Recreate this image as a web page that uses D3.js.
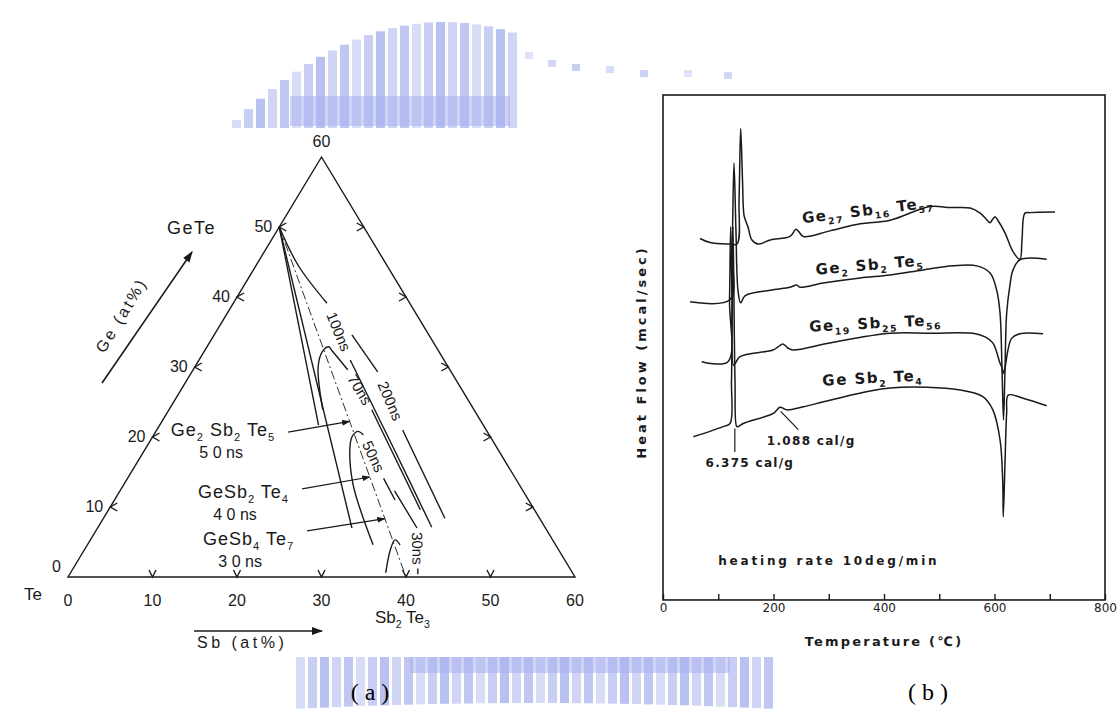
<!DOCTYPE html>
<html>
<head>
<meta charset="utf-8">
<script src="https://cdn.jsdelivr.net/npm/d3@7"></script>
<style>
  body { margin: 0; background: #fff; }
  svg { display: block; }
</style>
</head>
<body>
<svg id="fig" width="1118" height="709"></svg>
<script>
// ================= data: (a) Ge–Sb–Te composition diagram =================
// compositions are given as [Sb at%, Ge at%]; Te makes up the rest
const ternTicks = [10, 20, 30, 40, 50];
const ternLabels = [0, 10, 20, 30, 40, 50, 60];
const geTe = [0, 50];
const sb2Te3 = [40, 0];

const compositions = [
  { name: "Ge_2 Sb_2 Te_5", time: "5 0 ns", sb: 22.22, ge: 22.22, from: [15.7, 20.7] },
  { name: "GeSb_2 Te_4",    time: "4 0 ns", sb: 28.57, ge: 14.29, from: [21.4, 12.6] },
  { name: "GeSb_4 Te_7",    time: "3 0 ns", sb: 33.33, ge: 8.33,  from: [25.0, 6.6] }
];

// boundary lines running out of GeTe
const edgeLines = [
  [[0, 50], [18.8, 21.7]],
  [[0, 50], [30.1, 7.0]]
];

// crystallization-time contours; each is split where its label sits
const isochrones = [
  { label: "100ns", parts: [[[0, 50], [5, 44.5], [11.1, 39.1]],
                            [[17.9, 31.0], [29.6, 18.1], [39.5, 7.1]]] },
  { label: "200ns", parts: [[[16.3, 34.6], [22.0, 29.3]],
                            [[29.1, 21.0], [40.4, 8.4]]] },
  { label: "70ns",  parts: [[[18.2, 23.9], [14.6, 30.0], [14.0, 32.2], [14.4, 32.9], [15.0, 32.4], [18.3, 29.6]],
                            [[24.0, 23.9], [36.9, 9.6]]] },
  { label: "50ns",  parts: [[[33.8, 4.6], [29.8, 9.6], [27.0, 13.4], [24.3, 18.1], [23.6, 20.0], [23.9, 20.8], [24.8, 20.3]],
                            [[30.3, 14.1], [33.2, 11.0]]] },
  { label: "30ns",  parts: [[[32.5, 12.3], [37.8, 7.0]],
                            [[40.8, 1.2], [41.2, 0.4]]] }
];
const arc30 = [[37.3, 0.6], [36.2, 3.9], [36.05, 5.3], [37.0, 4.6]];

// ================= data: (b) DSC traces =================
// [temperature °C, heat flow (arbitrary, offset per trace)]
const tempTicks = [0, 100, 200, 300, 400, 500, 600, 700, 800];
const tempLabels = [0, 200, 400, 600, 800];

const dscGe27 = [[67,7.17],[85,7.09],[121,7.06],[134,7.06],[137.6,7.93],[140.6,9.34],[143.9,8.32],[146.6,7.63],
  [150.2,7.50],[153.8,7.40],[161,7.14],[172.5,7.06],[194,7.14],[230,7.21],[240.7,7.35],[246,7.30],[254,7.21],
  [302,7.32],[357,7.46],[411,7.53],[483,7.80],[520,7.78],[556,7.77],[574,7.67],[585,7.55],[592,7.48],[595.5,7.53],
  [601,7.60],[606,7.53],[619,7.28],[633.5,6.91],[646,6.76],[649.8,7.14],[655,7.67],[664,7.68],[709.5,7.69]];
const dscGe2 = [[49,5.92],[121,5.96],[125,6.94],[128.5,8.66],[132,7.34],[135.7,6.15],[140.6,5.90],[148.4,6.04],
  [194,6.15],[230,6.21],[242,6.25],[248,6.21],[290,6.29],[357,6.39],[411,6.45],[471,6.55],[525,6.63],[568,6.63],
  [592,6.49],[604,6.15],[610,5.70],[613.6,4.58],[616.3,3.59],[619,4.58],[622,5.69],[628,6.25],[633.5,6.55],
  [646,6.75],[694.5,6.76]];
const dscGe19 = [[70,4.74],[117.6,4.74],[120.4,5.96],[122.5,7.40],[124.9,5.96],[127.6,4.67],[132,4.73],[139.4,4.84],
  [199,4.97],[208,5.03],[217,5.09],[226,5.01],[235,4.97],[302,5.11],[411,5.30],[483,5.30],[561,5.30],[583,5.23],
  [597,5.11],[610,4.71],[613.6,4.62],[615.9,4.51],[619,4.62],[624.4,4.97],[631,5.20],[646,5.29],[688,5.29]];
const dscGe1 = [[55,3.26],[109,3.46],[121.3,3.52],[124,4.38],[126.7,7.40],[130.3,4.38],[133.4,3.46],[136.3,3.46],
  [145.3,3.52],[199.6,3.72],[211.8,3.84],[224,3.79],[254,3.85],[302,3.98],[411,4.22],[538,4.18],[579,4.05],
  [597,3.79],[610,3.20],[614.8,2.41],[615.9,1.68],[619,2.74],[622,3.73],[625,4.08],[651.6,4.02],[694.5,3.87]];

const dscSeries = [
  { name: "Ge_27 Sb_16 Te_57", data: dscGe27, at: 372, angle: -7 },
  { name: "Ge_2 Sb_2 Te_5",    data: dscGe2,  at: 375, angle: -5 },
  { name: "Ge_19 Sb_25 Te_56", data: dscGe19, at: 385, angle: -3 },
  { name: "Ge Sb_2 Te_4",      data: dscGe1,  at: 380, angle: -3 }
];

// ================= drawing =================
const svg = d3.select("#fig");
const ink = "#1a1a1a";

// text with chemical subscripts written as "_n"
function richText(sel, str, size) {
  let shifted = false;
  str.split(/(_\d+)/).filter(s => s.length).forEach(s => {
    if (s[0] === "_") {
      sel.append("tspan").attr("font-size", size * 0.62).attr("dy", size * 0.28).text(s.slice(1));
      shifted = true;
    } else {
      sel.append("tspan").attr("font-size", size).attr("dy", shifted ? -size * 0.28 : 0).text(s);
      shifted = false;
    }
  });
  return sel;
}

// ---------- watermark (pale logo fragments) ----------
const wm = svg.append("g").attr("fill", "#a7b1ee");
(function () {
  const shade = i => 0.45 + 0.35 * (((i * 7) % 5) / 4);
  // upper arch: columns rising to a crown, over a solid base
  let i = 0;
  for (let x = 232; x < 512; x += 12, i++) {
    const top = 22 + Math.pow((x - 440) / 210, 2) * 100;
    wm.append("rect").attr("x", x).attr("y", top).attr("width", 9).attr("height", 128 - top)
      .attr("opacity", shade(i));
  }
  wm.append("rect").attr("x", 290).attr("y", 96).attr("width", 220).attr("height", 30).attr("opacity", 0.55);
  [[525, 52], [548, 60], [572, 64], [606, 66], [640, 70], [684, 70], [724, 72]].forEach(([x, y], k) =>
    wm.append("rect").attr("x", x).attr("y", y).attr("width", 8).attr("height", 7).attr("opacity", shade(k) * 0.8));
  // lower arch
  i = 0;
  for (let x = 296; x < 770; x += 12, i++) {
    const bot = 709 - Math.max(0, 1 - Math.pow((x - 530) / 240, 2)) * 6;
    wm.append("rect").attr("x", x).attr("y", 657).attr("width", 9).attr("height", bot - 657)
      .attr("opacity", shade(i));
  }
  wm.append("rect").attr("x", 410).attr("y", 657).attr("width", 320).attr("height", 16).attr("opacity", 0.55);
})();

// ---------- (a) ternary diagram ----------
const tx = d3.scaleLinear().domain([0, 60]).range([68, 575]);
const ty = d3.scaleLinear().domain([0, 60]).range([577, 157]);
const proj = ([sb, ge]) => [tx(sb + ge / 2), ty(ge)];
const tern = svg.append("g").attr("stroke", ink).attr("fill", "none").attr("stroke-width", 1.4);

tern.append("path").attr("d", d3.line()([proj([0, 0]), proj([60, 0]), proj([0, 60])]) + "Z");

// tick marks on the three sides
ternTicks.forEach(v => {
  const [bx, by] = proj([v, 0]);
  tern.append("path").attr("d", `M${bx - 3.5},${by - 7}L${bx},${by}L${bx + 3.5},${by - 7}`);
  const [lx, ly] = proj([0, v]);
  tern.append("path").attr("d", `M${lx + 7},${ly - 4}L${lx},${ly}L${lx + 7},${ly + 4}`);
  const [rx, ry] = proj([60 - v, v]);
  tern.append("path").attr("d", `M${rx - 7},${ry - 4}L${rx},${ry}L${rx - 7},${ry + 4}`);
});

const tLine = d3.line().curve(d3.curveCatmullRom.alpha(0.5)).x(d => proj(d)[0]).y(d => proj(d)[1]);

// GeTe–Sb2Te3 tie line
tern.append("path").attr("d", tLine([geTe, sb2Te3])).attr("stroke-width", 0.9)
  .attr("stroke-dasharray", "9,3,2,3");

edgeLines.forEach(l => tern.append("path").attr("d", tLine(l)));
tern.append("path").attr("d", tLine(arc30));

const labelFont = "'Liberation Sans', Arial, sans-serif";
isochrones.forEach(c => {
  c.parts.forEach(p => tern.append("path").attr("d", tLine(p)));
  const a = proj(c.parts[0][c.parts[0].length - 1]);
  const b = proj(c.parts[1][0]);
  const ang = Math.atan2(b[1] - a[1], b[0] - a[0]) * 180 / Math.PI;
  svg.append("text")
    .attr("transform", `translate(${(a[0] + b[0]) / 2},${(a[1] + b[1]) / 2}) rotate(${ang})`)
    .attr("text-anchor", "middle").attr("dy", "0.35em")
    .attr("font-family", labelFont).attr("font-size", 15).attr("fill", ink)
    .text(c.label);
});

// composition arrows and labels
svg.append("defs").append("marker").attr("id", "head").attr("viewBox", "0 0 10 10")
  .attr("refX", 9).attr("refY", 5).attr("markerWidth", 7).attr("markerHeight", 7).attr("orient", "auto")
  .append("path").attr("d", "M0,1.5L10,5L0,8.5Z").attr("fill", ink);

compositions.forEach((c, k) => {
  const s = proj(c.from), e = proj([c.sb, c.ge]);
  tern.append("path").attr("d", d3.line()([s, e])).attr("stroke-width", 1.2).attr("marker-end", "url(#head)");
  richText(svg.append("text").attr("x", s[0] - 13).attr("y", s[1] + 4 + k * 5).attr("text-anchor", "end")
    .attr("font-family", labelFont).attr("letter-spacing", 1).attr("fill", ink), c.name, 18);
  svg.append("text").attr("x", s[0] - 67).attr("y", s[1] + 26 + k * 5).attr("text-anchor", "middle")
    .attr("font-family", labelFont).attr("font-size", 16).attr("fill", ink).text(c.time);
});

// axis numbers
const numG = svg.append("g").attr("font-family", labelFont).attr("font-size", 16).attr("fill", ink);
ternLabels.forEach(v => {
  const [bx, by] = proj([v, 0]);
  numG.append("text").attr("x", bx).attr("y", by + 29).attr("text-anchor", "middle").text(v);
  if (v < 60) {
    const [lx, ly] = proj([0, v]);
    numG.append("text").attr("x", lx - 7).attr("y", ly + 5 - (v === 0 ? 10 : 0))
      .attr("text-anchor", "end").text(v);
  }
});
numG.append("text").attr("x", proj([0, 60])[0]).attr("y", proj([0, 60])[1] - 10)
  .attr("text-anchor", "middle").text(60);

const nameG = svg.append("g").attr("font-family", labelFont).attr("fill", ink);
nameG.append("text").attr("x", 216).attr("y", 234).attr("text-anchor", "end").attr("font-size", 18)
  .attr("letter-spacing", 1.5).text("GeTe");
nameG.append("text").attr("x", 42).attr("y", 600).attr("text-anchor", "end").attr("font-size", 17).text("Te");
richText(nameG.append("text").attr("x", 375).attr("y", 623), "Sb_2 Te_3", 17);
nameG.append("text").attr("x", 197).attr("y", 648).attr("font-size", 16).attr("letter-spacing", 3.5).text("Sb (at%)");
nameG.append("path").attr("d", "M194,631L322,631").attr("stroke", ink).attr("stroke-width", 1.6)
  .attr("marker-end", "url(#head)");
// Ge axis title parallel to the left side
const sideAng = Math.atan2(ty(60) - ty(0), tx(30) - tx(0)) * 180 / Math.PI;
nameG.append("text").attr("transform", `translate(126,318) rotate(${sideAng})`)
  .attr("text-anchor", "middle").attr("font-size", 16).attr("letter-spacing", 2.5).text("Ge (at%)");
nameG.append("path").attr("d", "M102,383L192,252").attr("stroke", ink).attr("stroke-width", 1.6)
  .attr("marker-end", "url(#head)");

// ---------- (b) DSC curves ----------
const dx = d3.scaleLinear().domain([0, 800]).range([663, 1105]);
const dy = d3.scaleLinear().domain([0, 10]).range([602, 95]);
const dsc = svg.append("g");
const dscFont = "'DejaVu Sans', sans-serif";

dsc.append("rect").attr("x", dx(0)).attr("y", dy(10)).attr("width", dx(800) - dx(0))
  .attr("height", dy(0.04) - dy(10)).attr("fill", "none").attr("stroke", ink).attr("stroke-width", 1.6);

const xAxis = dsc.append("g").attr("transform", `translate(0,${dy(0.04)})`)
  .call(d3.axisBottom(dx).tickValues(tempTicks).tickSize(-6).tickPadding(4)
    .tickFormat(d => tempLabels.includes(d) ? d : ""));
xAxis.select(".domain").remove();
xAxis.selectAll("line").attr("stroke", ink).attr("stroke-width", 1.4);
xAxis.selectAll("text").attr("font-family", dscFont).attr("font-size", 12).attr("fill", ink);

const dLine = d3.line().curve(d3.curveCatmullRom.alpha(0.5)).x(d => dx(d[0])).y(d => dy(d[1]));
dscSeries.forEach(s => {
  dsc.append("path").attr("d", dLine(s.data)).attr("fill", "none").attr("stroke", ink).attr("stroke-width", 1.5);
  const pts = s.data;
  const i = pts.findIndex(p => p[0] >= s.at);
  const y = dy(pts[i][1]);
  richText(dsc.append("text").attr("transform", `translate(${dx(s.at)},${y - 5}) rotate(${s.angle})`)
    .attr("text-anchor", "middle").attr("font-family", dscFont).attr("font-weight", "bold")
    .attr("letter-spacing", 1.5).attr("fill", ink), s.name, 15);
});

// enthalpy annotations
const ann = dsc.append("g").attr("stroke", ink).attr("stroke-width", 1.2);
ann.append("path").attr("d", `M${dx(213)},${dy(3.76)}L${dx(245)},${dy(3.40)}`);
ann.append("path").attr("d", `M${dx(130)},${dy(3.42)}L${dx(130)},${dy(2.96)}`);
const annT = dsc.append("g").attr("font-family", dscFont).attr("font-weight", "bold")
  .attr("font-size", 12).attr("letter-spacing", 1.3).attr("fill", ink);
annT.append("text").attr("x", dx(188)).attr("y", dy(3.10)).text("1.088 cal/g");
annT.append("text").attr("x", dx(77)).attr("y", dy(2.66)).text("6.375 cal/g");
annT.append("text").attr("x", dx(100)).attr("y", dy(0.72)).attr("letter-spacing", 2.8).text("heating rate 10deg/min");

dsc.append("text").attr("x", dx(400)).attr("y", 646).attr("text-anchor", "middle")
  .attr("font-family", dscFont).attr("font-weight", "bold").attr("font-size", 13).attr("letter-spacing", 2.2)
  .attr("fill", ink).text("Temperature (℃)");
dsc.append("text").attr("transform", "translate(646,352) rotate(-90)").attr("text-anchor", "middle")
  .attr("font-family", dscFont).attr("font-weight", "bold").attr("font-size", 13).attr("letter-spacing", 3)
  .attr("fill", ink).text("Heat Flow (mcal/sec)");

// panel captions
const cap = svg.append("g").attr("font-family", "'Liberation Serif', serif").attr("font-size", 24)
  .attr("fill", "#000").attr("text-anchor", "middle");
cap.append("text").attr("x", 373).attr("y", 700).attr("letter-spacing", 6).text("(a)");
cap.append("text").attr("x", 931).attr("y", 700).attr("letter-spacing", 6).text("(b)");
</script>
</body>
</html>
